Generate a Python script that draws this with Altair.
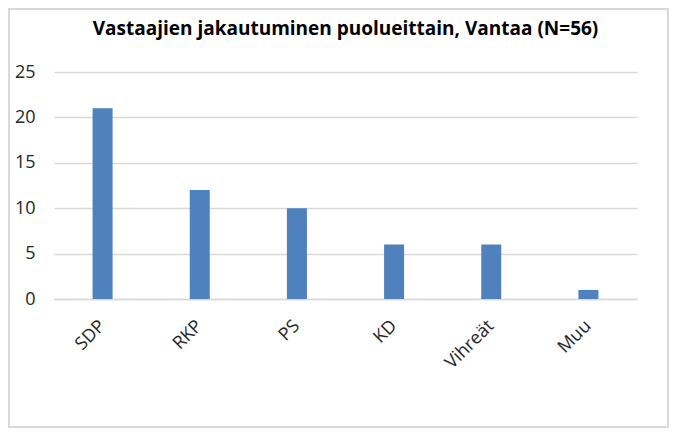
import altair as alt
import pandas as pd

parties = ["SDP", "RKP", "PS", "KD", "Vihreät", "Muu"]
counts = [21, 12, 10, 6, 6, 1]
y_ticks = [0, 5, 10, 15, 20, 25]

df = pd.DataFrame({"party": parties, "count": counts})

W, H = 583, 227
PAD_L, PAD_T, PAD_R, PAD_B = 46, 64, 32, 129
FONT = "Open Sans"
TXT = "#262626"

bars = alt.Chart(df).mark_bar(color="#4f81bd", width=20).encode(
    x=alt.X("party:N", sort=parties, title=None,
            scale=alt.Scale(paddingInner=0, paddingOuter=0),
            axis=alt.Axis(labelAngle=-45, labelFontSize=18, labelColor=TXT,
                          labelFont=FONT, ticks=False, grid=False,
                          domainColor="#d9d9d9", domainWidth=1.5,
                          labelPadding=24, labelAlign="right", labelBaseline="middle")),
    y=alt.Y("count:Q", title=None,
            scale=alt.Scale(domain=[0, 25]),
            axis=alt.Axis(values=y_ticks, labelFontSize=18, labelColor=TXT,
                          labelFont=FONT, ticks=False, domain=False,
                          gridColor="#d9d9d9", gridWidth=1.5, labelPadding=19)),
)

border = alt.Chart(pd.DataFrame({"k": [0]})).mark_rect(
    fill="transparent", stroke="#d9d9d9", strokeWidth=2, clip=False
).encode(
    x=alt.value(-PAD_L + 1), x2=alt.value(W + PAD_R - 1),
    y=alt.value(-PAD_T + 1), y2=alt.value(H + PAD_B - 1)
)

chart = alt.layer(bars, border).properties(
    width=W, height=H,
    view=alt.ViewBackground(stroke="transparent", strokeWidth=0),
    title=alt.TitleParams("Vastaajien jakautuminen puolueittain, Vantaa (N=56)",
                          font=FONT, fontSize=19, fontWeight="bold", color="#000000",
                          anchor="middle", frame="group", offset=-31),
    autosize=alt.AutoSizeParams(type="none"),
    padding={"left": PAD_L, "top": PAD_T, "right": PAD_R, "bottom": PAD_B},
).configure_view(stroke="transparent", strokeWidth=0).configure(background="white")

chart.save("out.html", embed_options={"renderer": "svg", "actions": False})
